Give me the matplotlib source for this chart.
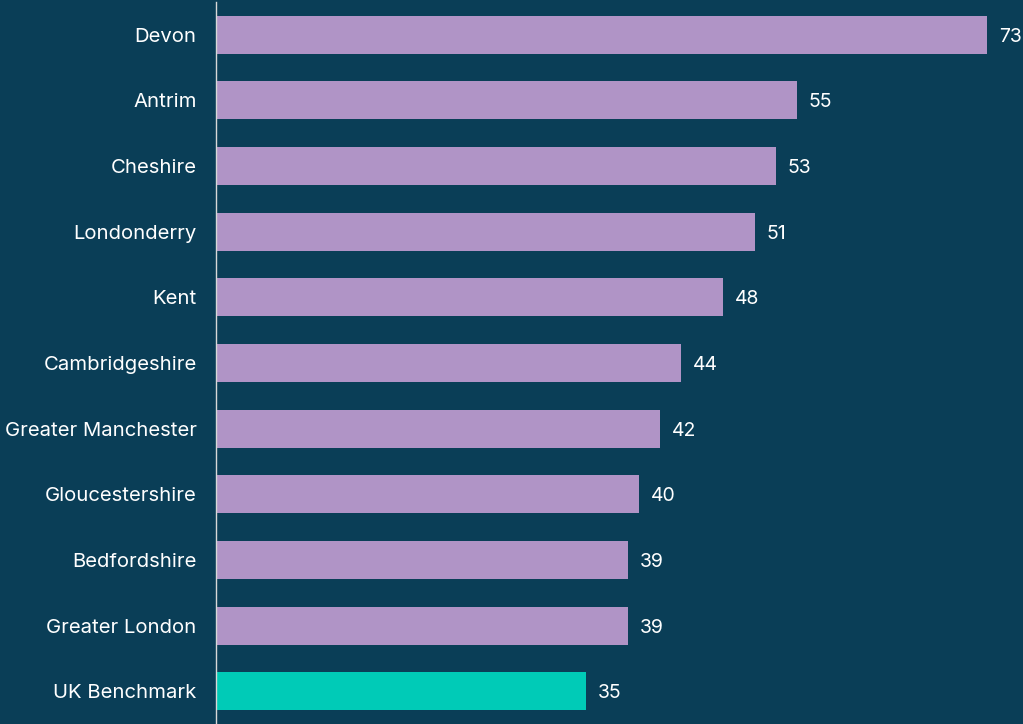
import matplotlib
matplotlib.use("Agg")
import matplotlib.pyplot as plt

categories = ["Devon", "Antrim", "Cheshire", "Londonderry", "Kent", "Cambridgeshire",
              "Greater Manchester", "Gloucestershire", "Bedfordshire", "Greater London",
              "UK Benchmark"]
values = [73, 55, 53, 51, 48, 44, 42, 40, 39, 39, 35]

BG = "#0a3e57"
PURPLE = "#b094c6"
TEAL = "#00cbb7"

plt.rcParams["font.family"] = ["Inter", "DejaVu Sans"]

fig = plt.figure(figsize=(10.23, 7.24), dpi=100, facecolor=BG)
ax = fig.add_axes([216 / 1023, 0, 1 - 216 / 1023, 722 / 724])
ax.set_facecolor(BG)

colors = [TEAL if c == "UK Benchmark" else PURPLE for c in categories]
y = list(range(len(categories)))
ax.barh(y, values, height=0.58, color=colors)

ax.set_ylim(len(categories) - 0.5, -0.5)
ax.set_xlim(0, 76.4)
ax.set_yticks(y)
ax.set_yticklabels(categories, color="white", fontsize=14.6)
ax.tick_params(axis="y", length=0, pad=14)
ax.set_xticks([])

for s in ["top", "right", "bottom"]:
    ax.spines[s].set_visible(False)
ax.spines["left"].set_color("#d8d8d8")
ax.spines["left"].set_linewidth(1)

for yi, v in zip(y, values):
    ax.annotate(str(v), xy=(v, yi), xytext=(12, -2), textcoords="offset pixels",
                va="center", ha="left", color="white", fontsize=14)

fig.savefig("out.png", dpi=100, facecolor=BG)
